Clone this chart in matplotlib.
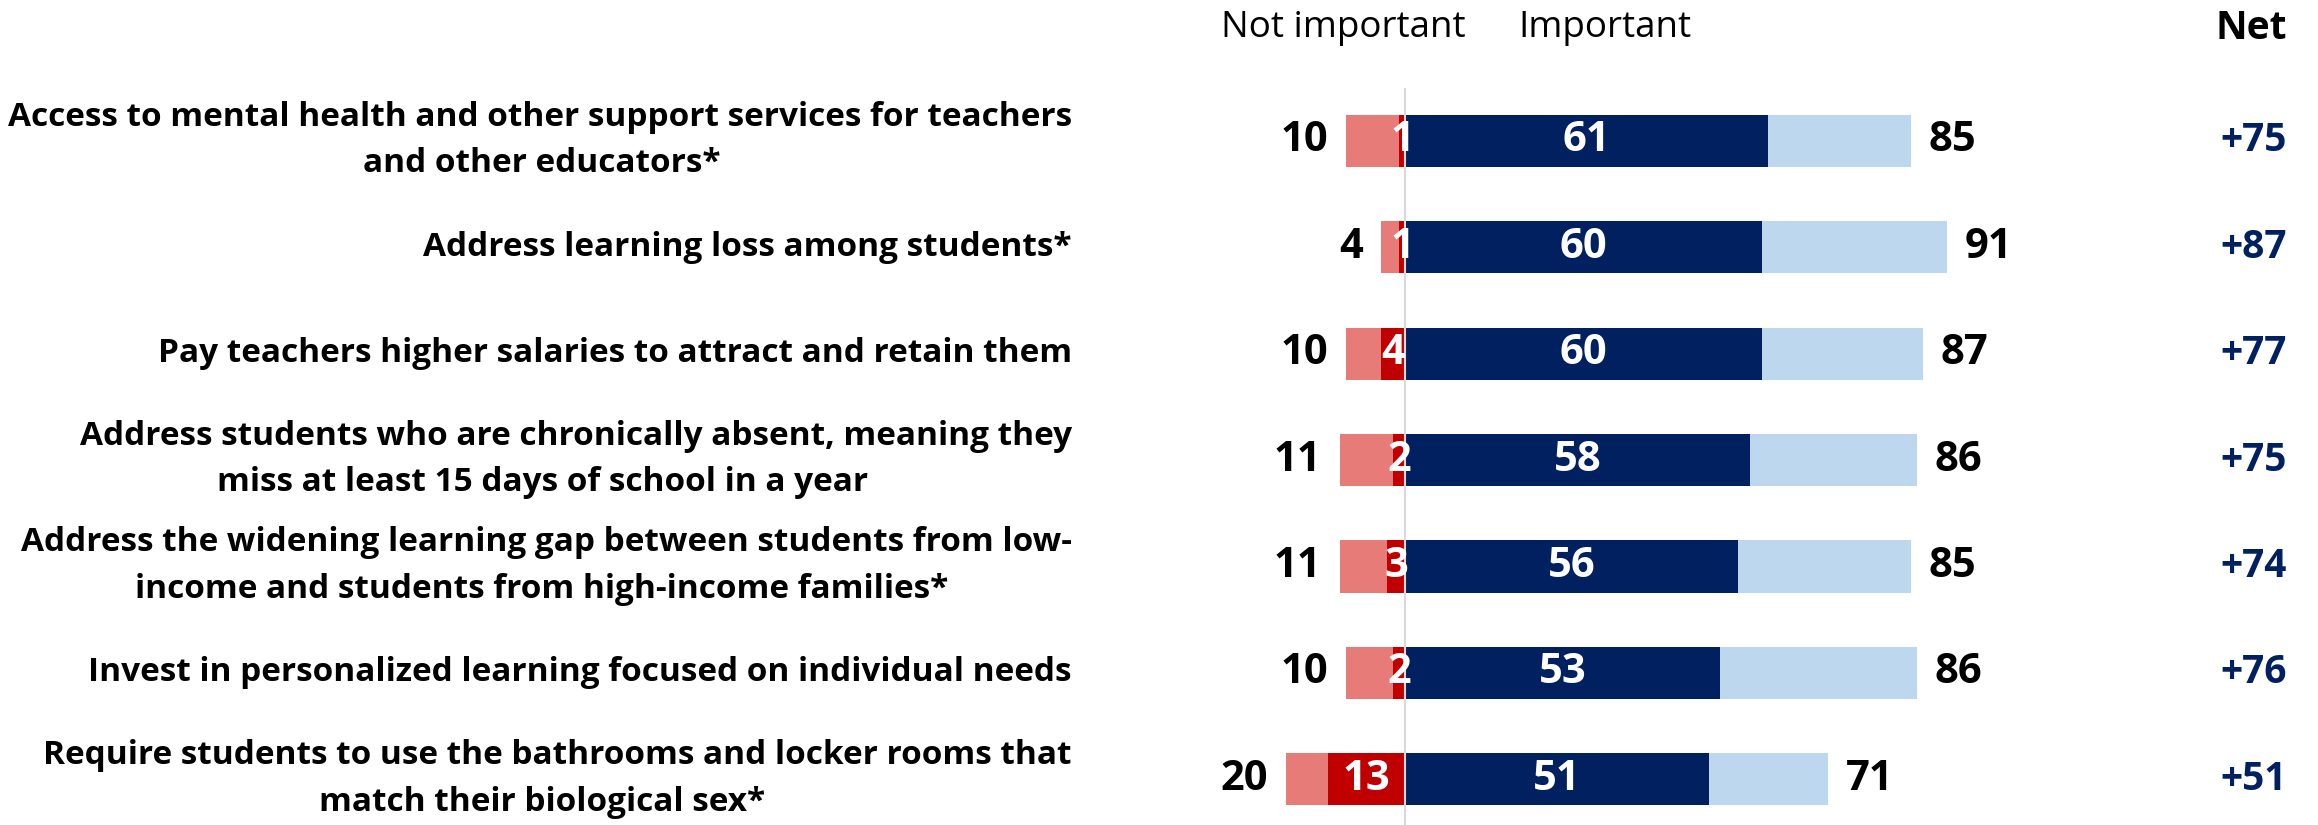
import matplotlib.pyplot as plt

plt.rcParams["font.family"] = ["Open Sans", "DejaVu Sans"]

# survey items, top to bottom
items = [
    "Access to mental health and other support services for teachers\nand other educators*",
    "Address learning loss among students*",
    "Pay teachers higher salaries to attract and retain them",
    "Address students who are chronically absent, meaning they\nmiss at least 15 days of school in a year",
    "Address the widening learning gap between students from low-\nincome and students from high-income families*",
    "Invest in personalized learning focused on individual needs",
    "Require students to use the bathrooms and locker rooms that\nmatch their biological sex*",
]
not_imp_total = [10, 4, 10, 11, 11, 10, 20]
not_imp_strong = [1, 1, 4, 2, 3, 2, 13]
imp_strong = [61, 60, 60, 58, 56, 53, 51]
imp_total = [85, 91, 87, 86, 85, 86, 71]
net = [75, 87, 77, 75, 74, 76, 51]

PINK = "#E67B77"
RED = "#C00000"
NAVY = "#002060"
LIGHT = "#BDD7EE"

fig = plt.figure(figsize=(23.18, 8.25), dpi=100)
ax = fig.add_axes([0, 0, 1, 1])
ax.set_xlim(-236.1, 153.4)
ax.set_ylim(6.43, -1.325)
ax.axis("off")

rows = list(range(len(items)))
h = 0.49

# not important side (drawn leftwards from zero)
ax.barh(rows, [t - s for t, s in zip(not_imp_total, not_imp_strong)],
        left=[-t for t in not_imp_total], height=h, color=PINK, zorder=2)
ax.barh(rows, not_imp_strong, left=[-s for s in not_imp_strong],
        height=h, color=RED, zorder=2)

# important side
ax.barh(rows, imp_strong, left=0, height=h, color=NAVY, zorder=2)
ax.barh(rows, [t - s for t, s in zip(imp_total, imp_strong)],
        left=imp_strong, height=h, color=LIGHT, zorder=2)

ax.vlines(0, -0.5, 6.43, color="#D9D9D9", lw=1.5, zorder=3)

for i in rows:
    ax.text(-not_imp_total[i] - 3, i, str(not_imp_total[i]), ha="right",
            va="center", fontsize=30, fontweight="bold", color="black")
    ax.text(-not_imp_strong[i] / 2, i, str(not_imp_strong[i]), ha="center",
            va="center", fontsize=30, fontweight="bold", color="white", zorder=4)
    ax.text(imp_strong[i] / 2, i, str(imp_strong[i]), ha="center",
            va="center", fontsize=30, fontweight="bold", color="white", zorder=4)
    ax.text(imp_total[i] + 3, i, str(imp_total[i]), ha="left",
            va="center", fontsize=30, fontweight="bold", color="black")
    ax.text(148.2, i, f"+{net[i]}", ha="right", va="center",
            fontsize=28, fontweight="bold", color=NAVY)

    lines = items[i].split("\n")
    if len(lines) == 1:
        ax.text(-56, i, lines[0], ha="right", va="center",
                fontsize=24, fontweight="bold")
    else:
        ax.text(-56, i - 0.225, lines[0], ha="right", va="center",
                fontsize=24, fontweight="bold")
        ax.text(-145, i + 0.215, lines[1], ha="center", va="center",
                fontsize=24, fontweight="bold")

# column headers
ax.text(-10.4, -1.06, "Not important", ha="center", va="center", fontsize=26.5)
ax.text(33.6, -1.06, "Important", ha="center", va="center", fontsize=26.5)
ax.text(148.2, -1.06, "Net", ha="right", va="center", fontsize=28,
        fontweight="bold")

fig.savefig("out.png", dpi=100)
